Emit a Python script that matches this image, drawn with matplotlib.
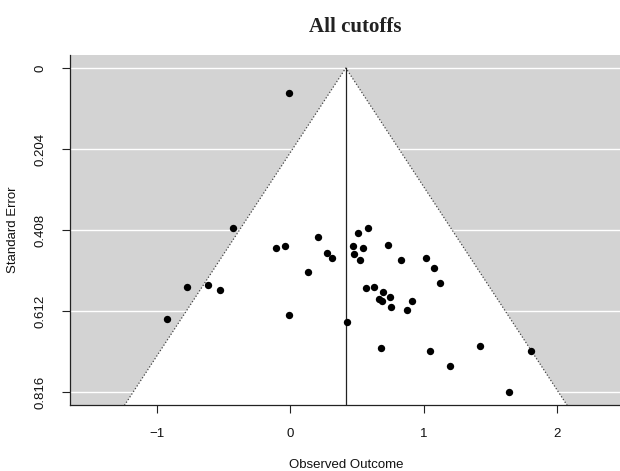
import matplotlib
matplotlib.use("Agg")
import matplotlib.pyplot as plt
import numpy as np

# Study-level effect sizes and their standard errors
effect_sizes = [
    -0.011, -0.431, -0.106, -0.043, 0.207, 0.277, 0.315, 0.132,
    -0.779, -0.617, -0.529, -0.929, -0.011, 0.583, 0.508, 0.470,
    0.545, 0.733, 0.478, 0.525, 0.833, 1.016, 1.081, 1.122,
    0.566, 0.631, 0.693, 0.751, 0.666, 0.686, 0.911, 0.756,
    0.876, 0.428, 0.678, 1.047, 1.424, 1.810, 1.199, 1.640,
]
std_errors = [
    0.064, 0.402, 0.454, 0.448, 0.426, 0.465, 0.477, 0.514,
    0.551, 0.546, 0.558, 0.632, 0.622, 0.402, 0.416, 0.448,
    0.452, 0.445, 0.467, 0.484, 0.483, 0.479, 0.503, 0.540,
    0.554, 0.550, 0.564, 0.576, 0.581, 0.585, 0.586, 0.601,
    0.608, 0.638, 0.705, 0.711, 0.700, 0.711, 0.749, 0.816,
]
pooled_estimate = 0.416
x_ticks = [-1, 0, 1, 2]
x_tick_labels = ["\u22121", "0", "1", "2"]
se_ticks = [0, 0.204, 0.408, 0.612, 0.816]
se_tick_labels = ["0", "0.204", "0.408", "0.612", "0.816"]

plt.rcParams["font.family"] = ["Liberation Sans", "DejaVu Sans"]

W, H = 620, 471
fig = plt.figure(figsize=(W / 100, H / 100), dpi=100)
left_px, right_px, top_px, bottom_px = 70, 620, 55, 405.4
ax = fig.add_axes([left_px / W, 1 - bottom_px / H,
                   (right_px - left_px) / W, (bottom_px - top_px) / H])

se_max = max(se_ticks)
pad = 0.04 * se_max
y_bottom = se_max + pad
ax.set_ylim(y_bottom, -pad)
ax.set_xlim(-1.656, 2.476)

ax.set_facecolor("#d3d3d3")
for s in se_ticks:
    ax.axhline(s, color="white", lw=1.0, zorder=1)

# pseudo-confidence region of the funnel
z = 1.96
fx = [pooled_estimate - z * y_bottom, pooled_estimate, pooled_estimate + z * y_bottom]
fy = [y_bottom, 0, y_bottom]
ax.fill(fx, fy, color="white", zorder=2, lw=0)
ax.plot(fx, fy, color="#444444", lw=0.9, ls=(0, (1, 1.6)), zorder=3)
ax.plot([pooled_estimate, pooled_estimate], [0, y_bottom], color="#222222", lw=0.9, zorder=3)

ax.plot(effect_sizes, std_errors, "o", color="black", ms=5.3, mew=0, zorder=4)

for side in ("top", "right"):
    ax.spines[side].set_visible(False)
for side in ("left", "bottom"):
    ax.spines[side].set_color("#222222")
    ax.spines[side].set_linewidth(0.9)

ax.set_xticks(x_ticks)
ax.set_xticklabels(x_tick_labels)
ax.set_yticks(se_ticks)
ax.set_yticklabels(se_tick_labels, rotation=90, va="center")
ax.tick_params(axis="both", length=6, width=0.8, color="#222222", labelsize=9.5,
               labelcolor="#111111")
ax.tick_params(axis="x", pad=10)
ax.tick_params(axis="y", pad=11)

fig.text(13 / W, 1 - 230 / H, "Standard Error", rotation=90, ha="center", va="center",
         fontsize=9.5, color="#111111")
fig.text(346 / W, 1 - 465 / H, "Observed Outcome", ha="center", va="center",
         fontsize=9.5, color="#111111")
fig.text(355 / W, 1 - 27 / H, "All cutoffs", ha="center", va="center",
         fontsize=15, fontweight="bold", family=["Liberation Serif", "DejaVu Serif"],
         color="#222222")

fig.savefig("out.png", dpi=100)
